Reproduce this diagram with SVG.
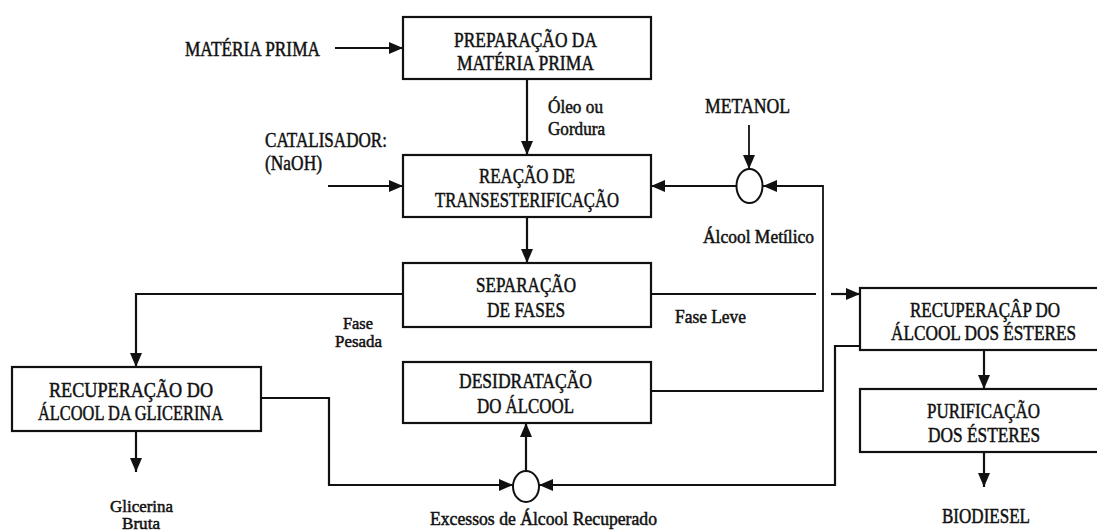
<svg xmlns="http://www.w3.org/2000/svg" width="1097" height="532" viewBox="0 0 1097 532">
<defs>
<marker id="ah" viewBox="0 0 14 12" markerWidth="14" markerHeight="12" refX="14" refY="6" orient="auto" markerUnits="userSpaceOnUse">
<path d="M0,0 L14,6 L0,12 z" fill="#111"/>
</marker>
</defs>
<style>
.box{fill:#fff;stroke:#111;stroke-width:2.2}
text{font-family:'Liberation Serif','Times New Roman',serif;fill:#111;stroke:#111;stroke-width:0.5}
.t{font-size:21px}
.l{font-size:18px}
.s{font-size:17px}
.c{fill:none;stroke:#111;stroke-width:2.2}
.cn{fill:none;stroke:#111;stroke-width:1.8}
.a{marker-end:url(#ah)}
.j{fill:#fff;stroke:#111;stroke-width:2}
</style>
<rect width="1097" height="532" fill="#fff"/>

<g id="connectors">
<line class="c a" x1="335" y1="48" x2="403" y2="48"/>
<line class="c a" x1="527" y1="79" x2="527" y2="155"/>
<line class="c a" x1="328" y1="186" x2="403" y2="186"/>
<line class="c a" x1="736" y1="186" x2="651" y2="186"/>
<line class="cn a" x1="749" y1="125" x2="749" y2="169"/>
<polyline class="cn a" points="651,391 823,391 823,186 763,186"/>
<line class="c a" x1="527" y1="217" x2="527" y2="263"/>
<polyline class="c a" points="403,294 136,294 136,367"/>
<line class="c" x1="651" y1="294" x2="816" y2="294"/>
<line class="c a" x1="831" y1="294" x2="860" y2="294"/>
<line class="c a" x1="136" y1="431" x2="136" y2="472"/>
<polyline class="c a" points="261,398 329,398 329,485 513,485"/>
<polyline class="c a" points="860,346 835,346 835,485 539,485"/>
<line class="c a" x1="526" y1="471" x2="526" y2="423"/>
<line class="c a" x1="984" y1="350" x2="984" y2="389"/>
<line class="c a" x1="984" y1="452" x2="984" y2="487"/>
</g>

<g id="mix-metanol"><ellipse class="j" cx="749.5" cy="186" rx="13" ry="17"/></g>
<g id="mix-excessos"><ellipse class="j" cx="526" cy="486.5" rx="13" ry="15.5"/></g>

<g id="n-preparacao">
<rect class="box" x="403" y="17" width="248" height="62"/>
<text class="t" x="454" y="47" textLength="143" lengthAdjust="spacingAndGlyphs">PREPARAÇÃO DA</text>
<text class="t" x="457" y="70" textLength="137" lengthAdjust="spacingAndGlyphs">MATÉRIA PRIMA</text>
</g>
<g id="n-reacao">
<rect class="box" x="403" y="155" width="248" height="62"/>
<text class="t" x="479" y="183" textLength="96" lengthAdjust="spacingAndGlyphs">REAÇÃO DE</text>
<text class="t" x="435" y="207" textLength="184" lengthAdjust="spacingAndGlyphs">TRANSESTERIFICAÇÃO</text>
</g>
<g id="n-separacao">
<rect class="box" x="403" y="263" width="248" height="64"/>
<text class="t" x="476" y="292" textLength="100" lengthAdjust="spacingAndGlyphs">SEPARAÇÃO</text>
<text class="t" x="487" y="317" textLength="78" lengthAdjust="spacingAndGlyphs">DE FASES</text>
</g>
<g id="n-desidratacao">
<rect class="box" x="403" y="362" width="248" height="61"/>
<text class="t" x="459" y="388" textLength="133" lengthAdjust="spacingAndGlyphs">DESIDRATAÇÃO</text>
<text class="t" x="477" y="413" textLength="97" lengthAdjust="spacingAndGlyphs">DO ÁLCOOL</text>
</g>
<g id="n-rec-glicerina">
<rect class="box" x="12" y="367" width="249" height="64"/>
<text class="t" x="49" y="397" textLength="164" lengthAdjust="spacingAndGlyphs">RECUPERAÇÃO DO</text>
<text class="t" x="38" y="420" textLength="185" lengthAdjust="spacingAndGlyphs">ÁLCOOL DA GLICERINA</text>
</g>
<g id="n-rec-esteres">
<rect class="box" x="860" y="288" width="250" height="62"/>
<text class="t" x="910" y="317" textLength="150" lengthAdjust="spacingAndGlyphs">RECUPERAÇÂP DO</text>
<text class="t" x="891" y="340" textLength="185" lengthAdjust="spacingAndGlyphs">ÁLCOOL DOS ÉSTERES</text>
</g>
<g id="n-purificacao">
<rect class="box" x="860" y="389" width="250" height="63"/>
<text class="t" x="927" y="418" textLength="113" lengthAdjust="spacingAndGlyphs">PURIFICAÇÃO</text>
<text class="t" x="928" y="442" textLength="112" lengthAdjust="spacingAndGlyphs">DOS ÉSTERES</text>
</g>

<g id="labels">
<text class="t" x="185" y="56" textLength="135" lengthAdjust="spacingAndGlyphs">MATÉRIA PRIMA</text>
<text class="l" x="548" y="113" textLength="55" lengthAdjust="spacingAndGlyphs">Óleo ou</text>
<text class="l" x="548" y="135" textLength="57" lengthAdjust="spacingAndGlyphs">Gordura</text>
<text class="t" x="265" y="147" textLength="122" lengthAdjust="spacingAndGlyphs">CATALISADOR:</text>
<text class="t" x="265" y="170" textLength="57" lengthAdjust="spacingAndGlyphs">(NaOH)</text>
<text class="t" x="705" y="113" textLength="85" lengthAdjust="spacingAndGlyphs">METANOL</text>
<text class="l" x="703" y="243" textLength="111" lengthAdjust="spacingAndGlyphs">Álcool Metílico</text>
<text class="l" x="675" y="323" textLength="71" lengthAdjust="spacingAndGlyphs">Fase Leve</text>
<text class="s" x="343" y="329" textLength="30" lengthAdjust="spacingAndGlyphs">Fase</text>
<text class="s" x="335" y="347" textLength="47" lengthAdjust="spacingAndGlyphs">Pesada</text>
<text class="s" x="110" y="512" textLength="63" lengthAdjust="spacingAndGlyphs">Glicerina</text>
<text class="s" x="122" y="529" textLength="38" lengthAdjust="spacingAndGlyphs">Bruta</text>
<text class="l" x="430" y="525" textLength="227" lengthAdjust="spacingAndGlyphs">Excessos de Álcool Recuperado</text>
<text class="t" x="942" y="523" textLength="88" lengthAdjust="spacingAndGlyphs">BIODIESEL</text>
</g>
</svg>
